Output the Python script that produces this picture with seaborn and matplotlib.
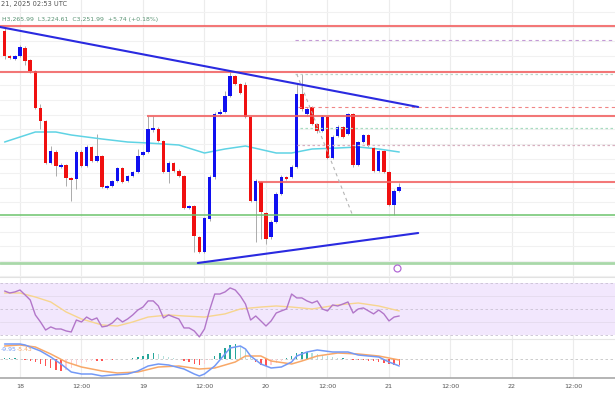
import numpy as np
import pandas as pd
import seaborn as sns
import matplotlib
matplotlib.use("Agg")
import matplotlib.pyplot as plt

# hourly candles, hours counted from 18 Jan 00:00 UTC
hours = list(range(-3, 75))
opens = [3408, 3383, 3380, 3383, 3391, 3379, 3368, 3331, 3318, 3276,
         3287, 3272, 3274, 3261, 3260, 3287, 3273, 3292, 3278, 3283,
         3251, 3253, 3258, 3271, 3258, 3263, 3267, 3284, 3287, 3309,
         3310, 3298, 3267, 3276, 3268, 3263, 3231, 3233, 3202, 3187,
         3220, 3262, 3325, 3327, 3343, 3363, 3355, 3354, 3322, 3238,
         3257, 3226, 3202, 3217, 3245, 3262, 3262, 3272, 3345, 3325,
         3332, 3315, 3308, 3322, 3281, 3303, 3312, 3305, 3325, 3274,
         3297, 3304, 3291, 3268, 3288, 3267, 3234, 3248]
highs = [3411, 3384, 3384, 3394, 3393, 3380, 3369, 3335, 3319, 3293,
         3289, 3276, 3275, 3262, 3289, 3289, 3294, 3293, 3305, 3284,
         3254, 3259, 3272, 3272, 3264, 3268, 3290, 3288, 3323, 3323,
         3312, 3299, 3278, 3277, 3270, 3264, 3234, 3234, 3203, 3222,
         3264, 3327, 3330, 3348, 3367, 3364, 3356, 3357, 3323, 3260,
         3258, 3227, 3219, 3247, 3264, 3263, 3274, 3355, 3365, 3332,
         3333, 3316, 3324, 3323, 3304, 3314, 3313, 3326, 3326, 3298,
         3305, 3305, 3292, 3289, 3289, 3268, 3250, 3256]
lows = [3380, 3380, 3379, 3382, 3374, 3366, 3330, 3310, 3275, 3275,
        3263, 3271, 3253, 3238, 3250, 3272, 3272, 3277, 3277, 3251,
        3250, 3252, 3257, 3256, 3257, 3262, 3266, 3283, 3286, 3307,
        3297, 3266, 3256, 3267, 3262, 3230, 3230, 3187, 3186, 3186,
        3218, 3260, 3324, 3326, 3342, 3354, 3345, 3321, 3237, 3197,
        3200, 3195, 3200, 3216, 3244, 3259, 3261, 3271, 3328, 3323,
        3314, 3306, 3307, 3280, 3280, 3302, 3301, 3304, 3272, 3273,
        3296, 3292, 3267, 3267, 3266, 3233, 3224, 3247]
closes = [3383, 3381, 3383, 3392, 3378, 3368, 3331, 3318, 3276, 3288,
          3273, 3274, 3261, 3259, 3287, 3273, 3292, 3278, 3283, 3252,
          3253, 3258, 3271, 3257, 3263, 3267, 3283, 3287, 3310, 3311,
          3298, 3267, 3276, 3268, 3263, 3231, 3233, 3203, 3187, 3221,
          3262, 3325, 3327, 3343, 3363, 3355, 3346, 3322, 3238, 3258,
          3227, 3200, 3217, 3245, 3262, 3260, 3272, 3345, 3330, 3330,
          3315, 3308, 3322, 3281, 3302, 3312, 3302, 3325, 3274, 3297,
          3304, 3293, 3268, 3288, 3267, 3234, 3248, 3252]

# moving average
ma_hours = [-3, 0, 3, 7, 10, 16, 21, 25, 31, 36, 40, 44, 50, 53, 57, 62, 66, 70, 74]
ma_values = [3297, 3302, 3307, 3307, 3304, 3300, 3297, 3296, 3294, 3286,
             3290, 3293, 3286, 3286, 3290, 3291, 3292, 3290, 3287]

# drawn levels
red_levels = [3413, 3367, 3323, 3257]
red_starts = [-3.9, -3.9, 24.8, 46.4]
green_levels = [3224, 3176]
upper_trend_h = [-3.9, 77.7]
upper_trend_p = [3412, 3332]
lower_trend_h = [34.7, 77.7]
lower_trend_p = [3176, 3206]
guide_h = [54.0, 64.8]
guide_p = [3365, 3225]

# RSI and its average
rsi = [63.8, 62.3, 63.1, 64.6, 60.8, 56.9, 45.4, 40.0, 33.8, 36.2,
       34.6, 34.6, 33.1, 32.3, 41.5, 40.0, 43.8, 41.5, 43.1, 36.2,
       36.9, 39.2, 43.1, 40.0, 42.3, 45.4, 49.2, 51.5, 56.2, 56.2,
       52.3, 43.1, 45.4, 43.8, 42.3, 35.4, 35.4, 33.1, 28.5, 34.6,
       49.2, 61.5, 61.5, 63.1, 66.2, 64.6, 60.0, 53.8, 41.5, 44.6,
       40.8, 36.9, 40.8, 46.9, 48.5, 50.0, 61.5, 58.5, 58.5, 56.2,
       54.6, 56.2, 50.0, 48.5, 53.1, 52.3, 53.8, 55.4, 46.9, 50.0,
       50.8, 48.5, 46.2, 49.2, 46.2, 40.8, 43.8, 44.6]
rsi_ma_hours = [-3, 0, 3, 6, 9, 12, 16, 19, 22, 25, 29, 32, 36, 40, 43, 47, 50, 53, 57, 62, 66, 70, 74]
rsi_ma_values = [62.3, 62.3, 59.2, 55.4, 47.7, 42.3, 37.7, 36.9, 40.0, 43.8,
                 45.4, 44.6, 43.8, 46.2, 50.0, 51.5, 52.3, 51.5, 50.0, 53.1,
                 54.6, 52.3, 48.5]

# MACD
macd_hours = [-3, 0, 1, 4, 6, 8, 10, 12, 14, 16, 18, 21, 23, 25, 27, 29, 32, 34, 35,
              36, 38, 40, 41, 43, 44, 45, 47, 49, 51, 53, 54, 55, 56, 58, 61, 64, 66, 70, 72, 74]
macd_values = [15, 15, 14, 8, 2, -5, -13, -15, -15, -17, -16, -15, -12, -7, -5, -6, -10,
               -15, -17, -15, -7, 5, 11, 13, 10, 3, -5, -9, -8, -3, 3, 5, 7, 9, 7, 7,
               4, 2, -3, -7]
signal_hours = [-3, 0, 3, 6, 9, 12, 16, 19, 23, 27, 31, 35, 38, 42, 44, 47, 49, 53, 55, 58, 62, 66, 70, 74]
signal_values = [13, 14, 12, 5, -3, -8, -12, -14, -13, -8, -7, -10, -9, -3, 3, 3, -2,
                 -5, -2, 3, 6, 5, 3, -1]
hist = [1, 1, 1, 0, -1, -2, -3, -5, -7, -9, -11, -12, -11, -9, -6, -4, -3, -2, -2, -2,
        -1, -1, 0, 0, 0, 1, 2, 3, 5, 6, 5, 3, 2, 1, 0, -2, -3, -5, -6, -5,
        -1, 3, 6, 11, 14, 15, 13, 9, 3, -3, -6, -7, -6, -4, -2, 1, 3, 6, 7, 7,
        6, 5, 4, 3, 2, 1, 1, 0, -1, -1, -1, -2, -2, -3, -4, -5, -6, -6]

tick_hours = [0, 12, 24, 36, 48, 60, 72, 84, 96, 108]
tick_labels = ["18", "12:00", "19", "12:00", "20", "12:00", "21", "12:00", "22", "12:00"]

sns.set_theme(style="white")
plt.rcParams["font.family"] = ["DejaVu Sans"]

H = 410.0
fig = plt.figure(figsize=(6.15, 4.1), dpi=100)
ax = fig.add_axes([0, 1 - 278 / H, 1, 278 / H])
ax_rsi = fig.add_axes([0, 1 - 340 / H, 1, 62 / H])
ax_macd = fig.add_axes([0, 1 - 379 / H, 1, 39 / H])

xlim = (-3.9, 116.1)
for a in (ax, ax_rsi, ax_macd):
    a.set_xlim(*xlim)
    for s in a.spines.values():
        s.set_visible(False)
    for t in tick_hours:
        a.axvline(t, color="#ececec", lw=0.8, zorder=0)
    a.set_yticks([])
    a.set_xticks([])

# main pane
ax.set_ylim(3162, 3440)
for p in np.arange(3427, 3162, -14.65):
    ax.axhline(p, color="#f1f1f1", lw=0.8, zorder=0)

df = pd.DataFrame({"h": hours, "o": opens, "hi": highs, "lo": lows, "c": closes})
up = df["c"] >= df["o"]
colors = np.where(up, "#1010f0", "#f01010")
ax.vlines(df["h"], df["lo"], df["hi"], color="#ababab", lw=0.7, zorder=2)
body = (df["c"] - df["o"]).where((df["c"] - df["o"]).abs() >= 1.5, np.where(up, 1.5, -1.5))
ax.bar(df["h"], body, bottom=df["o"], width=0.68, color=colors, lw=0, zorder=3)

sns.lineplot(x=ma_hours, y=ma_values, ax=ax, color="#5fd3e4", lw=1.1, zorder=2)

for lvl, st in zip(red_levels, red_starts):
    ax.hlines(lvl, st, xlim[1], color="#f26060", lw=1.5, alpha=0.85, zorder=4)
ax.axhline(green_levels[0], color="#6cc46c", lw=1.1, zorder=4)
ax.axhline(green_levels[1], color="#a9d8a9", lw=2.0, zorder=4)

ax.hlines(3399, 53.7, xlim[1], color="#c49ad6", lw=0.8, ls=(0, (3, 3)), zorder=4)
ax.hlines(3365, 53.7, xlim[1], color="#bcd8cc", lw=0.9, ls=(0, (2, 2)), zorder=4)
ax.hlines(3332, 54.2, xlim[1], color="#f08585", lw=0.8, ls=(0, (3, 3)), zorder=4)
ax.hlines(3311, 54.6, xlim[1], color="#a8dcc0", lw=0.9, ls=(0, (2, 2)), zorder=4)
ax.hlines(3294, 54.0, xlim[1], color="#d8b0c0", lw=0.9, ls=(0, (2, 2)), zorder=4)
ax.plot(guide_h, guide_p, color="#b5b5b5", lw=0.8, ls=(0, (3, 3)), zorder=4)

sns.lineplot(x=upper_trend_h, y=upper_trend_p, ax=ax, color="#2a2ae0", lw=1.5, zorder=5)
sns.lineplot(x=lower_trend_h, y=lower_trend_p, ax=ax, color="#2a2ae0", lw=1.5, zorder=5)
ax.plot([73.6], [3171], marker="o", ms=5, mfc="white", mec="#b36ad6", mew=0.9, zorder=6)

# RSI pane
ax_rsi.set_ylim(26.9, 74.6)
ax_rsi.axhspan(30, 70, color="#f2e7fd", lw=0, zorder=0)
for lvl in (60, 40):
    ax_rsi.axhline(lvl, color="#e6dcef", lw=0.7, zorder=1)
for lvl in (70, 50, 30):
    ax_rsi.axhline(lvl, color="#c9c0d3", lw=0.6, ls=(0, (3, 3)), zorder=1)
ax_rsi.spines["top"].set_visible(True)
ax_rsi.spines["top"].set_color("#e2e2e2")
ax_rsi.spines["top"].set_linewidth(0.8)
sns.lineplot(x=rsi_ma_hours, y=rsi_ma_values, ax=ax_rsi, color="#f7d58e", lw=1.0, zorder=2)
sns.lineplot(x=hours, y=rsi, ax=ax_rsi, color="#b276c9", lw=1.0, zorder=3)

# MACD pane
ax_macd.set_ylim(-19, 20)
ax_macd.axhline(0, color="#c4c4c4", lw=0.6, ls=(0, (3, 3)), zorder=1)
hist_colors = []
for i, v in enumerate(hist):
    prev = hist[i - 1] if i > 0 else v
    if v >= 0:
        hist_colors.append("#26a69a" if v >= prev else "#b2dfdb")
    else:
        hist_colors.append("#ff5252" if v <= prev else "#ffcdd2")
ax_macd.bar(hours, hist, width=0.28, color=hist_colors, lw=0, zorder=2)
sns.lineplot(x=signal_hours, y=signal_values, ax=ax_macd, color="#f8a868", lw=1.1, zorder=3)
sns.lineplot(x=macd_hours, y=macd_values, ax=ax_macd, color="#7399f6", lw=1.1, zorder=4)
ax_macd.spines["top"].set_visible(True)
ax_macd.spines["top"].set_color("#e6e6e6")
ax_macd.spines["top"].set_linewidth(0.8)
ax_macd.spines["bottom"].set_visible(True)
ax_macd.spines["bottom"].set_color("#a8a8a8")
ax_macd.spines["bottom"].set_linewidth(1.2)
ax_macd.set_xticks(tick_hours, tick_labels)
ax_macd.tick_params(axis="x", length=0, labelsize=4.6, colors="#555555", pad=3.5)

# header texts
fig.text(1 / 615, 1 - 4 / H, "21, 2025 02:53 UTC", fontsize=4.8, color="#555555", va="center")
fig.text(2 / 615, 1 - 20 / H, "H3,265.99  L3,224.61  C3,251.99  +5.74 (+0.18%)",
         fontsize=4.4, color="#5b9474", va="center")
fig.text(1 / 615, 1 - 350 / H, "-9.95", fontsize=4.4, color="#7399f6", va="center")
fig.text(17 / 615, 1 - 350 / H, "-5.43", fontsize=4.4, color="#f8a868", va="center")

fig.savefig("out.png", dpi=100)
